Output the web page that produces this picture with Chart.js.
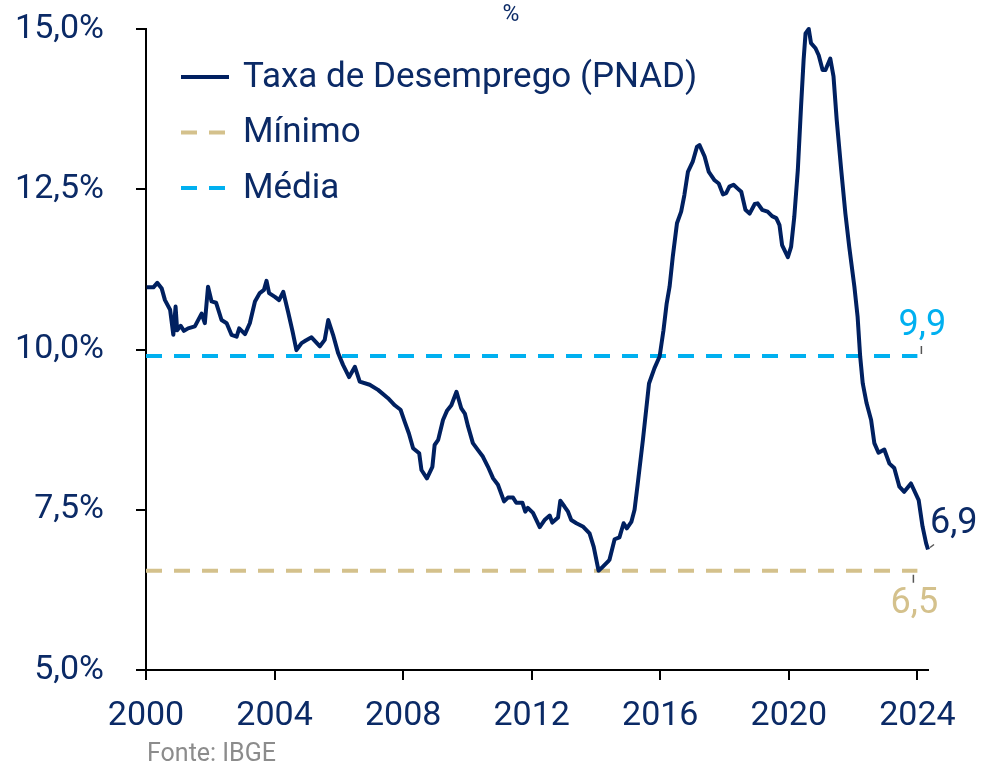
<!DOCTYPE html>
<html>
<head>
<meta charset="utf-8">
<script src="https://cdn.jsdelivr.net/npm/chart.js@4.4.1/dist/chart.umd.min.js"></script>
<style>
  html, body { margin: 0; padding: 0; background: #fff; }
  #wrap { position: relative; width: 1004px; height: 765px; }
</style>
</head>
<body>
<div id="wrap"><canvas id="chart" width="1004" height="765"></canvas></div>
<script>
// ── DATA ──────────────────────────────────────────────────────────────────
const years = [
  2000.02, 2000.23, 2000.35, 2000.49, 2000.59, 2000.75, 2000.85, 2000.92, 2000.97, 2001.08,
  2001.18, 2001.31, 2001.52, 2001.73, 2001.83, 2001.93, 2002.04, 2002.18, 2002.35, 2002.51,
  2002.66, 2002.82, 2002.90, 2003.08, 2003.23, 2003.39, 2003.54, 2003.67, 2003.75, 2003.83,
  2004.01, 2004.14, 2004.27, 2004.42, 2004.56, 2004.68, 2004.84, 2004.97, 2005.15, 2005.41,
  2005.56, 2005.67, 2005.82, 2005.98, 2006.13, 2006.32, 2006.50, 2006.65, 2006.96, 2007.22,
  2007.53, 2007.74, 2007.92, 2008.05, 2008.18, 2008.31, 2008.50, 2008.57, 2008.74, 2008.91,
  2008.98, 2009.09, 2009.24, 2009.37, 2009.50, 2009.66, 2009.81, 2009.92, 2010.02, 2010.17,
  2010.33, 2010.48, 2010.64, 2010.80, 2010.95, 2011.14, 2011.26, 2011.42, 2011.52, 2011.71,
  2011.80, 2011.88, 2012.04, 2012.25, 2012.40, 2012.56, 2012.64, 2012.82, 2012.89, 2013.02,
  2013.13, 2013.23, 2013.39, 2013.59, 2013.80, 2013.93, 2014.08, 2014.17, 2014.37, 2014.42,
  2014.58, 2014.73, 2014.86, 2014.96, 2015.10, 2015.20, 2015.30, 2015.46, 2015.65, 2015.82,
  2015.98, 2016.10, 2016.20, 2016.29, 2016.39, 2016.52, 2016.65, 2016.75, 2016.86, 2017.01,
  2017.14, 2017.22, 2017.38, 2017.51, 2017.69, 2017.82, 2017.95, 2018.05, 2018.15, 2018.28,
  2018.41, 2018.52, 2018.65, 2018.78, 2018.94, 2019.03, 2019.17, 2019.34, 2019.48, 2019.61,
  2019.71, 2019.79, 2019.97, 2020.07, 2020.17, 2020.28, 2020.38, 2020.46, 2020.52, 2020.62,
  2020.69, 2020.83, 2020.93, 2021.05, 2021.14, 2021.29, 2021.39, 2021.49, 2021.63, 2021.76,
  2021.88, 2022.04, 2022.14, 2022.22, 2022.30, 2022.42, 2022.56, 2022.66, 2022.79, 2022.97,
  2023.13, 2023.28, 2023.44, 2023.59, 2023.80, 2024.04, 2024.16, 2024.27, 2024.33
];
const rate = [
  10.97, 10.97, 11.04, 10.95, 10.77, 10.62, 10.23, 10.67, 10.30, 10.37,
  10.29, 10.33, 10.36, 10.56, 10.41, 10.98, 10.75, 10.73, 10.46, 10.41,
  10.23, 10.20, 10.33, 10.24, 10.41, 10.75, 10.88, 10.93, 11.07, 10.88,
  10.82, 10.77, 10.90, 10.59, 10.28, 9.99, 10.10, 10.14, 10.19, 10.05,
  10.15, 10.46, 10.23, 9.94, 9.76, 9.57, 9.73, 9.50, 9.45, 9.37,
  9.24, 9.13, 9.06, 8.87, 8.69, 8.46, 8.38, 8.12, 7.99, 8.17,
  8.51, 8.59, 8.90, 9.05, 9.13, 9.34, 9.08, 9.00, 8.80, 8.54,
  8.43, 8.33, 8.17, 7.99, 7.89, 7.63, 7.69, 7.69, 7.61, 7.61,
  7.47, 7.53, 7.45, 7.23, 7.34, 7.41, 7.30, 7.38, 7.64, 7.55,
  7.47, 7.34, 7.29, 7.24, 7.13, 6.92, 6.55, 6.59, 6.69, 6.72,
  7.04, 7.07, 7.29, 7.21, 7.31, 7.50, 7.91, 8.59, 9.47, 9.71,
  9.89, 10.30, 10.72, 10.98, 11.45, 11.97, 12.15, 12.41, 12.77, 12.93,
  13.16, 13.19, 13.01, 12.77, 12.64, 12.59, 12.42, 12.44, 12.54, 12.57,
  12.51, 12.46, 12.18, 12.12, 12.27, 12.28, 12.18, 12.15, 12.08, 12.05,
  11.94, 11.63, 11.44, 11.60, 12.07, 12.80, 13.79, 14.52, 14.93, 15.00,
  14.78, 14.70, 14.59, 14.36, 14.36, 14.54, 14.26, 13.58, 12.80, 12.12,
  11.60, 10.98, 10.51, 9.89, 9.47, 9.16, 8.90, 8.54, 8.39, 8.44,
  8.22, 8.15, 7.86, 7.78, 7.91, 7.65, 7.24, 6.98, 6.88
];
const minValue  = 6.55;
const meanValue = 9.9;
const refYears  = [2000, 2024];
const yTicks    = [5, 7.5, 10, 12.5, 15];
const xTicks    = [2000, 2004, 2008, 2012, 2016, 2020, 2024];
const labels    = ['Taxa de Desemprego (PNAD)', 'Mínimo', 'Média'];
const endLabels = { mean: '9,9', min: '6,5', last: '6,9' };

// ── STYLE ─────────────────────────────────────────────────────────────────
const NAVY = '#002060';
const TEXT = '#0b2a66';
const CYAN = '#00b0f0';
const TAN  = '#d4c18c';
const FONT = 'Roboto, "Liberation Sans", sans-serif';

const series = years.map((x, i) => ({ x, y: rate[i] }));
const refLine = v => refYears.map(x => ({ x, y: v }));

// legend, unit, end labels and source note drawn on the canvas
const decorations = {
  id: 'decorations',
  afterDraw(chart) {
    const { ctx, scales: { x, y } } = chart;
    ctx.save();

    // legend inside plot
    const rows = [
      { text: labels[0], color: NAVY, dash: [] },
      { text: labels[1], color: TAN,  dash: [16, 12] },
      { text: labels[2], color: CYAN, dash: [16, 12] }
    ];
    rows.forEach((r, i) => {
      const cy = 77 + i * 55.5;
      ctx.beginPath();
      ctx.setLineDash(r.dash);
      ctx.strokeStyle = r.color;
      ctx.lineWidth = 4;
      ctx.moveTo(181, cy);
      ctx.lineTo(229, cy);
      ctx.stroke();
      ctx.setLineDash([]);
      ctx.fillStyle = TEXT;
      ctx.font = `35px ${FONT}`;
      ctx.textAlign = 'left';
      ctx.textBaseline = 'middle';
      ctx.fillText(r.text, 243, cy + 1);
    });

    // unit
    ctx.font = `23px ${FONT}`;
    ctx.fillStyle = TEXT;
    ctx.textAlign = 'center';
    ctx.fillText('%', 511, 15);

    // end labels
    const xEnd = x.getPixelForValue(refYears[1]);
    const yMean = y.getPixelForValue(meanValue);
    const yMin = y.getPixelForValue(minValue);
    const xLast = x.getPixelForValue(years[years.length - 1]);
    const yLast = y.getPixelForValue(rate[rate.length - 1]);

    ctx.font = `36px ${FONT}`;
    ctx.fillStyle = CYAN;
    ctx.fillText(endLabels.mean, xEnd + 5, yMean - 30);
    ctx.fillStyle = TAN;
    ctx.fillText(endLabels.min, xEnd - 3, yMin + 33);
    ctx.fillStyle = TEXT;
    ctx.textAlign = 'left';
    ctx.fillText(endLabels.last, xLast + 2, yLast - 25);

    // leader ticks
    ctx.strokeStyle = '#555';
    ctx.lineWidth = 1.5;
    ctx.beginPath();
    ctx.moveTo(xEnd + 4, yMean - 10); ctx.lineTo(xEnd + 4, yMean - 2);
    ctx.moveTo(xEnd - 4, yMin + 4);   ctx.lineTo(xEnd - 4, yMin + 12);
    ctx.moveTo(xLast + 2, yLast - 2); ctx.lineTo(xLast + 6, yLast - 5);
    ctx.stroke();

    // source
    ctx.font = `25px ${FONT}`;
    ctx.fillStyle = '#8c8c8c';
    ctx.textAlign = 'left';
    ctx.fillText('Fonte: IBGE', 147, 755);

    ctx.restore();
  }
};

new Chart(document.getElementById('chart'), {
  type: 'line',
  data: {
    datasets: [
      {
        label: labels[0],
        data: series,
        borderColor: NAVY,
        borderWidth: 4,
        borderJoinStyle: 'round',
        pointRadius: 0,
        tension: 0,
        clip: 8
      },
      {
        label: labels[1],
        data: refLine(minValue),
        borderColor: TAN,
        borderWidth: 4,
        borderDash: [16, 12],
        pointRadius: 0
      },
      {
        label: labels[2],
        data: refLine(meanValue),
        borderColor: CYAN,
        borderWidth: 4,
        borderDash: [16, 12],
        pointRadius: 0
      }
    ]
  },
  options: {
    responsive: false,
    animation: false,
    layout: { padding: { top: 29, right: 76, left: 0, bottom: 0 } },
    plugins: { legend: { display: false }, tooltip: { enabled: false } },
    scales: {
      x: {
        type: 'linear',
        min: 2000,
        max: years[years.length - 1],
        afterBuildTicks: s => { s.ticks = xTicks.map(value => ({ value })); },
        afterFit: s => { s.height = 95; s.paddingLeft = 0; s.paddingRight = 0; },
        grid: { drawOnChartArea: false, tickLength: 10, color: '#000', lineWidth: 2 },
        border: { color: '#000', width: 2 },
        ticks: {
          color: TEXT,
          font: { family: FONT, size: 34 },
          padding: 16,
          maxRotation: 0,
          callback: v => String(v)
        }
      },
      y: {
        min: 5,
        max: 15,
        afterBuildTicks: s => { s.ticks = yTicks.map(value => ({ value })); },
        afterFit: s => { s.width = 146; s.paddingTop = 0; s.paddingBottom = 0; },
        grid: { drawOnChartArea: false, tickLength: 10, color: '#000', lineWidth: 2 },
        border: { color: '#000', width: 2 },
        ticks: {
          color: TEXT,
          font: { family: FONT, size: 34 },
          padding: 32,
          callback: v => v.toFixed(1).replace('.', ',') + '%'
        }
      }
    }
  },
  plugins: [decorations]
});
</script>
</body>
</html>
